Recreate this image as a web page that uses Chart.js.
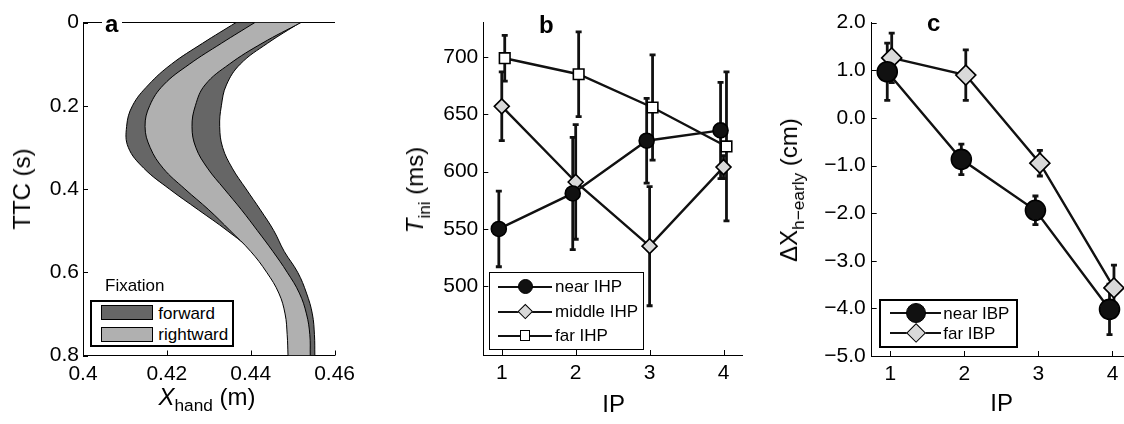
<!DOCTYPE html>
<html>
<head>
<meta charset="utf-8">
<title>Hand trajectories and IP effects</title>
<script src="https://cdn.jsdelivr.net/npm/chart.js@4.4.1/dist/chart.umd.min.js"></script>
<style>
  html, body { margin: 0; padding: 0; background: #fff; }
  body { position: relative; width: 1124px; height: 424px; overflow: hidden;
         font-family: 'Liberation Sans', Arial, Helvetica, sans-serif; color: #000; }
  canvas { position: absolute; top: 0; }
  .txt { position: absolute; white-space: nowrap; line-height: 1; }
  .vt { transform: translate(-50%, -50%) rotate(-90deg); }
  .ht { transform: translateX(-50%); }
  .sub { position: relative; top: 0.38em; font-size: 0.72em; }
  .box { position: absolute; box-sizing: border-box; border: 1.5px solid #000; background: #fff; }
  .ln { position: absolute; height: 2.4px; background: #111; }
  .mk { position: absolute; box-sizing: border-box; border: 1.5px solid #000; }
  .sw { position: absolute; box-sizing: border-box; border: 1px solid #000; }
</style>
</head>
<body>
<canvas id="chartA" style="left:0px" width="361" height="424"></canvas>
<canvas id="chartB" style="left:380px" width="382" height="424"></canvas>
<canvas id="chartC" style="left:770px" width="381" height="424"></canvas>

<!-- panel letters -->
<div class="txt" style="left:101.5px; top:12.4px; font-size:24px; font-weight:bold; background:#fff; padding:0 3.5px;">a</div>
<div class="txt" style="left:539px; top:12.7px; font-size:24px; font-weight:bold;">b</div>
<div class="txt" style="left:927px; top:11.4px; font-size:24px; font-weight:bold;">c</div>

<!-- axis titles -->
<div class="txt vt" style="left:21.7px; top:188.5px; font-size:24px;">TTC (s)</div>
<div class="txt ht" style="left:207px; top:384.7px; font-size:24px;"><i>X</i><span class="sub">hand</span> (m)</div>
<div class="txt vt" style="left:414.5px; top:190px; font-size:24px;"><i>T</i><span class="sub">ini</span> (ms)</div>
<div class="txt ht" style="left:613.7px; top:391.7px; font-size:24px;">IP</div>
<div class="txt vt" style="left:788.5px; top:190px; font-size:24px;">ΔX<span class="sub">h−early</span> (cm)</div>
<div class="txt ht" style="left:1001.7px; top:391.4px; font-size:24px;">IP</div>

<!-- panel a legend -->
<div class="txt" style="left:105px; top:277.3px; font-size:17px;">Fixation</div>
<div class="box" style="left:90px; top:300px; width:143.5px; height:47px; border-width:2px;"></div>
<div class="sw" style="left:100.7px; top:305px; width:52px; height:15.3px; background:#666;"></div>
<div class="sw" style="left:100.7px; top:326.7px; width:52px; height:15px; background:#b0b0b0;"></div>
<div class="txt" style="left:158.3px; top:304.6px; font-size:17px;">forward</div>
<div class="txt" style="left:158.3px; top:325.6px; font-size:17px;">rightward</div>

<!-- panel b legend -->
<div class="box" style="left:489px; top:272.3px; width:155px; height:77.7px;"></div>
<div class="ln" style="left:498px; top:285.5px; width:54px;"></div>
<div class="mk" style="left:517.5px; top:279.2px; width:15px; height:15px; border-radius:50%; background:#111;"></div>
<div class="txt" style="left:555px; top:278.2px; font-size:17px;">near IHP</div>
<div class="ln" style="left:498px; top:310.5px; width:54px;"></div>
<div class="mk" style="left:519.7px; top:306.4px; width:10.6px; height:10.6px; background:#d9d9d9; transform:rotate(45deg);"></div>
<div class="txt" style="left:555px; top:303.2px; font-size:17px;">middle IHP</div>
<div class="ln" style="left:498px; top:334.5px; width:54px;"></div>
<div class="mk" style="left:519.7px; top:330.4px; width:10.6px; height:10.6px; background:#fff;"></div>
<div class="txt" style="left:555px; top:327.2px; font-size:17px;">far IHP</div>

<!-- panel c legend -->
<div class="box" style="left:879.3px; top:299.3px; width:138.4px; height:48.4px; border-width:2px;"></div>
<div class="ln" style="left:890px; top:312.1px; width:51px;"></div>
<div class="mk" style="left:905.7px; top:303.3px; width:20px; height:20px; border-radius:50%; background:#111;"></div>
<div class="txt" style="left:943.3px; top:304.8px; font-size:17px;">near IBP</div>
<div class="ln" style="left:890px; top:332.1px; width:51px;"></div>
<div class="mk" style="left:908.6px; top:326.2px; width:14.2px; height:14.2px; background:#d9d9d9; transform:rotate(45deg);"></div>
<div class="txt" style="left:943.3px; top:324.8px; font-size:17px;">far IBP</div>

<script>
// -- panel a: band edges of hand position (m) against time to contact (s) --
const ttc = [0, 0.05, 0.1, 0.15, 0.2, 0.25, 0.3, 0.35, 0.4, 0.45, 0.5, 0.55, 0.6, 0.65, 0.7, 0.75, 0.8];
const forwardLeft    = [0.4365, 0.4285, 0.4211, 0.4156, 0.4118, 0.4104, 0.4108, 0.4145, 0.4206, 0.4275, 0.4344, 0.4404, 0.4442, 0.4470, 0.4485, 0.4490, 0.4492];
const forwardRight   = [0.4518, 0.4440, 0.4375, 0.4342, 0.4330, 0.4326, 0.4333, 0.4356, 0.4389, 0.4423, 0.4455, 0.4480, 0.4512, 0.4533, 0.4547, 0.4552, 0.4553];
const rightwardLeft  = [0.4410, 0.4330, 0.4254, 0.4192, 0.4159, 0.4148, 0.4160, 0.4191, 0.4243, 0.4300, 0.4351, 0.4400, 0.4438, 0.4467, 0.4482, 0.4487, 0.4489];
const rightwardRight = [0.4520, 0.4427, 0.4349, 0.4291, 0.4268, 0.4260, 0.4269, 0.4297, 0.4337, 0.4378, 0.4416, 0.4453, 0.4487, 0.4516, 0.4533, 0.4541, 0.4542];
const aXTicks = [0.4, 0.42, 0.44, 0.46];
const aXLabels = ['0.4', '0.42', '0.44', '0.46'];
const aYTicks = [0, 0.2, 0.4, 0.6, 0.8];
const aYLabels = ['0', '0.2', '0.4', '0.6', '0.8'];

// -- panel b: T_ini (ms) per IP --
const ipCats = [1, 2, 3, 4];
const nearIHP      = [550, 581, 627, 636];
const nearIHPErr   = [33, 49, 37, 42];
const middleIHP    = [657, 591, 535, 604];
const middleIHPErr = [30, 50, 52, 10];
const farIHP       = [699, 685, 656, 622];
const farIHPErr    = [20, 37, 46, 65];
const bYTicks = [500, 550, 600, 650, 700];
const bYLabels = ['500', '550', '600', '650', '700'];
const ipTicks = [1, 2, 3, 4];
const ipLabels = ['1', '2', '3', '4'];

// -- panel c: ΔX h-early (cm) per IP --
const nearIBP    = [0.97, -0.87, -1.94, -4.02];
const nearIBPErr = [0.60, 0.32, 0.30, 0.53];
const farIBP     = [1.26, 0.90, -0.95, -3.57];
const farIBPErr  = [0.52, 0.53, 0.27, 0.48];
const cYTicks = [-5, -4, -3, -2, -1, 0, 1, 2];
const cYLabels = ['−5.0', '−4.0', '−3.0', '−2.0', '−1.0', '0.0', '1.0', '2.0'];

Chart.defaults.font.family = "'Liberation Sans', Arial, Helvetica, sans-serif";
Chart.defaults.color = '#000';

// small inward tick marks, matlab style
const innerTicks = {
  id: 'innerTicks',
  afterDatasetsDraw(chart) {
    const { ctx, chartArea: area } = chart;
    const xs = chart.scales.x, ys = chart.scales.y;
    ctx.save();
    ctx.strokeStyle = '#000';
    ctx.lineWidth = 1;
    ctx.beginPath();
    xs.ticks.forEach(t => {
      const p = Math.round(xs.getPixelForValue(t.value)) + 0.5;
      ctx.moveTo(p, area.bottom);
      ctx.lineTo(p, area.bottom - 5);
    });
    ys.ticks.forEach(t => {
      const p = Math.round(ys.getPixelForValue(t.value)) + 0.5;
      ctx.moveTo(area.left, p);
      ctx.lineTo(area.left + 5, p);
    });
    ctx.stroke();
    ctx.restore();
  }
};

const fixedTicks = (vals) => scale => { scale.ticks = vals.map(v => ({ value: v })); };

const xAxis = (min, max, vals, labels, height) => ({
  type: 'linear', position: 'bottom', min, max,
  afterBuildTicks: fixedTicks(vals),
  afterFit: s => { s.height = height; },
  ticks: { callback: (v, i) => labels[i], font: { size: 21 }, padding: 6, maxRotation: 0, autoSkip: false },
  grid: { display: false, drawTicks: false, tickLength: 0 },
  border: { display: true, color: '#000', width: 1 }
});

const yAxis = (min, max, vals, labels, width, pad, reverse) => ({
  type: 'linear', min, max, reverse: !!reverse,
  afterBuildTicks: fixedTicks(vals),
  afterFit: s => { s.width = width; },
  ticks: { callback: (v, i) => labels[i], font: { size: 21 }, padding: pad, autoSkip: false },
  grid: { display: false, drawTicks: false, tickLength: 0 },
  border: { display: true, color: '#000', width: 1 }
});

const baseOptions = (padding, scales) => ({
  responsive: false,
  animation: false,
  devicePixelRatio: 1,
  events: [],
  layout: { padding },
  scales,
  plugins: { legend: { display: false }, tooltip: { enabled: false },
             filler: { drawTime: 'beforeDatasetDraw' } }
});

// -- panel a --
const edge = (xs, extra) => Object.assign({
  data: ttc.map((t, i) => ({ x: xs[i], y: t })),
  borderColor: '#000', borderWidth: 1, pointRadius: 0, tension: 0.4, fill: false
}, extra);

new Chart(document.getElementById('chartA'), {
  type: 'line',
  data: {
    datasets: [
      edge(rightwardRight),
      edge(rightwardLeft, { fill: 0, backgroundColor: '#b0b0b0' }),
      edge(forwardRight),
      edge(forwardLeft, { fill: 2, backgroundColor: '#666666' })
    ]
  },
  options: Object.assign(baseOptions({ top: 22.5, right: 20, left: 0, bottom: 0 }, {
    x: xAxis(0.4, 0.46, aXTicks, aXLabels, 68.5),
    xTop: { type: 'linear', position: 'top', min: 0.4, max: 0.46,
            ticks: { display: false }, grid: { display: false, drawTicks: false, tickLength: 0 },
            border: { display: true, color: '#000', width: 1 }, afterFit: s => { s.height = 0; } },
    y: yAxis(0, 0.8, aYTicks, aYLabels, 83, 4, true)
  }), { indexAxis: 'y' }),
  plugins: [innerTicks]
});

// -- panels b and c: markers with error bars --
const mkSeries = (ys, dx, pointStyle, radius, fillColor) => ({
  data: ipCats.map((x, i) => ({ x: x + dx, y: ys[i] })),
  borderColor: '#111', borderWidth: 2.4, tension: 0, fill: false,
  pointStyle, pointRadius: radius, pointBackgroundColor: fillColor,
  pointBorderColor: '#000', pointBorderWidth: 1.6, order: 0
});

const mkErr = (ys, es, dx) => ({
  data: ipCats.flatMap((x, i) => [
    { x: x + dx, y: ys[i] - es[i] },
    { x: x + dx, y: ys[i] + es[i] },
    { x: x + dx, y: null }
  ]),
  borderColor: '#111', borderWidth: 2.8, spanGaps: false, fill: false,
  pointStyle: 'line', pointRadius: 3, pointBorderWidth: 2.8, pointBorderColor: '#111', order: 1
});

new Chart(document.getElementById('chartB'), {
  type: 'line',
  data: {
    datasets: [
      mkSeries(nearIHP, -0.04, 'circle', 7.5, '#111'),
      mkSeries(middleIHP, 0, 'rectRot', 7.5, '#d9d9d9'),
      mkSeries(farIHP, 0.04, 'rect', 7.5, '#ffffff'),
      mkErr(nearIHP, nearIHPErr, -0.04),
      mkErr(middleIHP, middleIHPErr, 0),
      mkErr(farIHP, farIHPErr, 0.04)
    ]
  },
  options: baseOptions({ top: 22.7, right: 20, left: 0, bottom: 0 }, {
    x: xAxis(0.75, 4.25, ipTicks, ipLabels, 69),
    y: yAxis(440, 730, bYTicks, bYLabels, 103.3, 5)
  }),
  plugins: [innerTicks]
});

new Chart(document.getElementById('chartC'), {
  type: 'line',
  data: {
    datasets: [
      mkSeries(nearIBP, -0.04, 'circle', 10, '#111'),
      mkSeries(farIBP, 0.02, 'rectRot', 10, '#d9d9d9'),
      mkErr(nearIBP, nearIBPErr, -0.04),
      mkErr(farIBP, farIBPErr, 0.02)
    ]
  },
  options: baseOptions({ top: 22.7, right: 20, left: 0, bottom: 0 }, {
    x: xAxis(0.75, 4.25, ipTicks, ipLabels, 68),
    y: yAxis(-5, 2, cYTicks, cYLabels, 101.7, 6)
  }),
  plugins: [innerTicks]
});
</script>
</body>
</html>
